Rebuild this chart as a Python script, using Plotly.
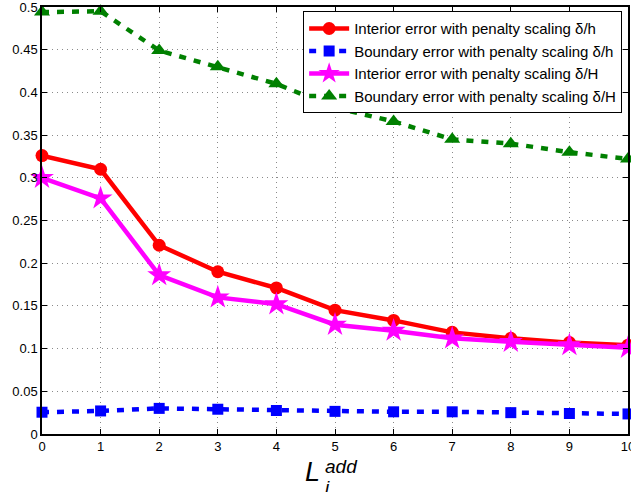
import plotly.graph_objects as go

# Number of additional layers L_i^add
l_add = [0, 1, 2, 3, 4, 5, 6, 7, 8, 9, 10]

# Errors for the two penalty scalings
interior_h = [0.326, 0.310, 0.221, 0.190, 0.171, 0.145, 0.133, 0.119, 0.112, 0.107, 0.104]
boundary_h = [0.0255, 0.027, 0.030, 0.029, 0.0275, 0.0265, 0.026, 0.026, 0.025, 0.024, 0.0235]
interior_H = [0.300, 0.276, 0.186, 0.160, 0.152, 0.128, 0.121, 0.112, 0.108, 0.104, 0.101]
boundary_H = [0.494, 0.495, 0.449, 0.430, 0.410, 0.382, 0.366, 0.345, 0.340, 0.330, 0.322]

y_ticks = [0, 0.05, 0.1, 0.15, 0.2, 0.25, 0.3, 0.35, 0.4, 0.45, 0.5]
y_tick_text = ["0", "0.05", "0.1", "0.15", "0.2", "0.25", "0.3", "0.35", "0.4", "0.45", "0.5"]

FONT = "Liberation Sans, Arial, Helvetica, sans-serif"

series = [
    ("Interior error with penalty scaling δ/h", interior_h, "#ff0000", "solid", "circle", 13),
    ("Boundary error with penalty scaling δ/h", boundary_h, "#0000ff", "7px,8px", "square", 11),
    ("Interior error with penalty scaling δ/H", interior_H, "#ff00ff", "solid", "star", 18),
    ("Boundary error with penalty scaling δ/H", boundary_H, "#008000", "7px,8px", "triangle-up", 14),
]

fig = go.Figure()
for name, values, color, dash, symbol, size in series:
    fig.add_trace(go.Scatter(
        x=l_add, y=values, name=name, mode="lines+markers",
        line=dict(color=color, width=4.5, dash=dash),
        marker=dict(symbol=symbol, size=size, color=color, line=dict(width=0)),
        cliponaxis=False,
    ))

axis_common = dict(
    showline=True, linecolor="black", linewidth=1.5, mirror="ticks",
    ticks="inside", ticklen=5, tickcolor="black", tickwidth=1,
    showgrid=True, gridcolor="#8a8a8a", griddash="1px,4px", gridwidth=1,
    zeroline=False, tickfont=dict(family=FONT, size=13, color="black"),
    ticklabeloverflow="allow", automargin=False,
)

fig.update_xaxes(range=[0, 10], tickmode="array", tickvals=l_add, **axis_common)
fig.update_yaxes(range=[0, 0.5], tickmode="array", tickvals=y_ticks,
                 ticktext=y_tick_text, **axis_common)

# Axis label L_i^add with stacked sub/superscript
x_lab = 0.478
fig.add_annotation(text="<i>L</i>", xref="paper", yref="paper", x=x_lab, y=-0.09,
                   showarrow=False, xanchor="right", yanchor="middle",
                   font=dict(family=FONT, size=27, color="black"))
fig.add_annotation(text="<i>add</i>", xref="paper", yref="paper", x=x_lab + 0.002, y=-0.075,
                   showarrow=False, xanchor="left", yanchor="middle",
                   font=dict(family=FONT, size=19, color="black"))
fig.add_annotation(text="<i>i</i>", xref="paper", yref="paper", x=x_lab + 0.002, y=-0.125,
                   showarrow=False, xanchor="left", yanchor="middle",
                   font=dict(family=FONT, size=19, color="black"))

fig.update_layout(
    width=631, height=492,
    margin=dict(l=42, r=3, t=7, b=58, autoexpand=False),
    paper_bgcolor="white", plot_bgcolor="white",
    showlegend=True,
    legend=dict(
        x=0.99, y=0.99, xanchor="right", yanchor="top",
        bordercolor="black", borderwidth=1, bgcolor="white",
        font=dict(family=FONT, size=15, color="black"),
        itemwidth=40,
    ),
)

fig.write_html("out.html")
